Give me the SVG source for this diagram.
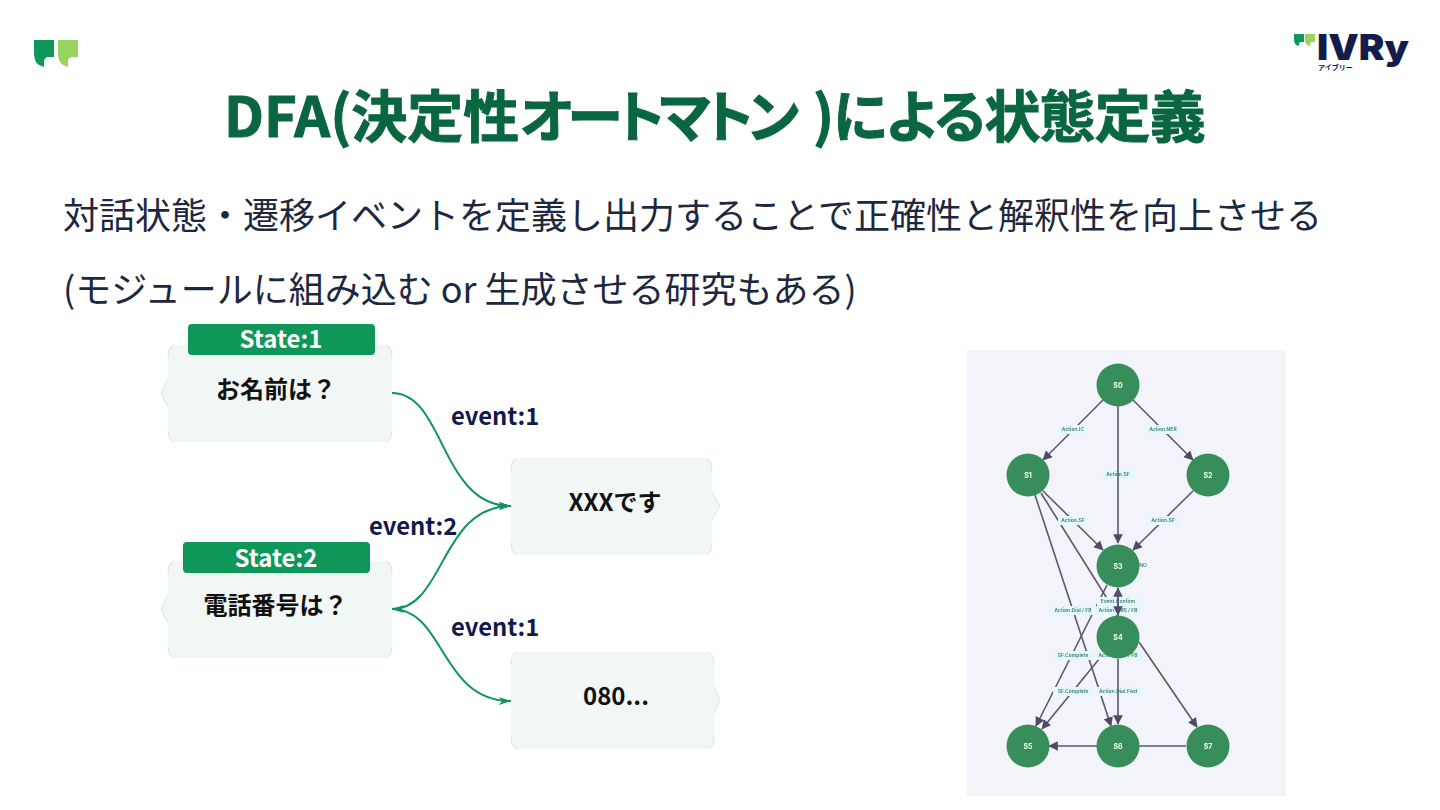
<svg xmlns="http://www.w3.org/2000/svg" width="1440" height="810" viewBox="0 0 1440 810">
<style>
.ja{font-family:"Noto Sans CJK JP","Noto Sans",sans-serif}
.title{font-size:56px;font-weight:700;fill:#0a6640;stroke:#0a6640;stroke-width:1;font-feature-settings:"palt"}
.body{font-size:36px;fill:#1d2840}
.nt{font-size:24px;font-weight:700;fill:#111;text-anchor:middle}
.st{font-size:24px;font-weight:700;fill:#fff;text-anchor:middle}
.ev{font-size:23.8px;font-weight:700;fill:#13194a}
.box{fill:#f0f7f5}
.cr{fill:none;stroke:#c8d0cd;stroke-width:.5}
.hd{fill:#0f9659}
.cn{fill:none;stroke:#0f9659;stroke-width:2}
.e{stroke:#5a5870;stroke-width:1.6;fill:none;marker-end:url(#a)}
.lb{fill:#e6f7fa}
.lt{font-family:Inter,"Liberation Sans",sans-serif;font-size:5px;font-weight:600;fill:#3a7d7a;text-anchor:middle}
.n{fill:#378e5a}
.nl{font-family:Inter,"Liberation Sans",sans-serif;font-size:7px;font-weight:700;fill:#f2fff6;text-anchor:middle}
</style>
<defs>
<marker id="a" markerWidth="8" markerHeight="8" refX="5.5" refY="3" orient="auto"><path d="M0 0L6 3L0 6Z" fill="#4f4c66"/></marker>
<marker id="g" markerWidth="14" markerHeight="12" refX="12" refY="4" orient="auto-start-reverse" markerUnits="userSpaceOnUse"><path d="M0 0L12 4L0 8L3 4Z" fill="#0f9659"/></marker>
<filter id="soft" x="0" y="0" width="1" height="1"><feGaussianBlur stdDeviation=".35"/></filter>
</defs>
<rect width="1440" height="810" fill="#fff"/>
<g id="logo-left">
<path d="M34 40H54V57H49Q44 57 44 62V67Q34 65 34 54Z" fill="#0f9659"/>
<path d="M58 40H78V57H73Q68 57 68 62V67Q58 65 58 54Z" fill="#9ad45f"/>
</g>
<g id="logo-right">
<path d="M1294 34H1304V42H1301Q1299 42 1299 44V46Q1294 45 1294 40Z" fill="#0f9659"/>
<path d="M1305 34H1315V42H1312Q1310 42 1310 44V46Q1305 45 1305 40Z" fill="#9ad45f"/>
<text x="1317" y="60" font-family="Inter,'Liberation Sans',sans-serif" font-size="35" font-weight="900" fill="#141c4a" textLength="92" lengthAdjust="spacingAndGlyphs">IVRy</text>
<text x="1318" y="70" class="ja" font-size="7" font-weight="700" fill="#141c4a">アイブリー</text>
</g>
<text y="137" class="ja title"><tspan x="224">DFA(決定性</tspan><tspan x="520" letter-spacing="-5">オートマトン </tspan><tspan x="813">)</tspan><tspan x="833" letter-spacing="-0.9">による状態定義</tspan></text>
<text x="63" y="229" class="ja body">対話状態・遷移イベントを定義し出力することで正確性と解釈性を向上させる</text>
<text x="63" y="303" class="ja body">(モジュールに組み込む or 生成させる研究もある)</text>
<g id="connectors">
<path class="cn" marker-end="url(#g)" d="M392 393C445 393 440 506 511 506"/>
<path class="cn" marker-start="url(#g)" marker-end="url(#g)" d="M392 609C445 609 440 506 511 506"/>
<path class="cn" d="M392 609C445 609 440 701 511 701" marker-end="url(#g)"/>
</g>
<g id="state1">
<path class="box" d="M174 345H386Q392 347 392 353V434Q392 440 386 442H174Q168 440 168 434V407L161 393L168 378V353Q168 347 174 345Z"/>
<path class="cr" d="M174 345Q168 347 168 358M386 345Q392 347 392 358M392 429Q392 440 386 442M174 442Q168 440 168 429M168 407L161 393L168 378"/>
<rect class="hd" x="188" y="324" width="187" height="31" rx="4"/>
<text class="ja st" x="281" y="348">State:1</text>
<text class="ja nt" x="276" y="398">お名前は？</text>
</g>
<g id="state2">
<path class="box" d="M174 561H386Q392 563 392 569V650Q392 656 386 658H174Q168 656 168 650V623L161 609L168 594V569Q168 563 174 561Z"/>
<path class="cr" d="M174 561Q168 563 168 574M386 561Q392 563 392 574M392 645Q392 656 386 658M174 658Q168 656 168 645M168 623L161 609L168 594"/>
<rect class="hd" x="183" y="542" width="187" height="31" rx="4"/>
<text class="ja st" x="276" y="567">State:2</text>
<text class="ja nt" x="275.500" y="614">電話番号は？</text>
</g>
<g id="reply1">
<path class="box" d="M517 458H706Q712 460 712 466V492L720 506L712 520V547Q712 553 706 555H517Q511 553 511 547V466Q511 460 517 458Z"/>
<path class="cr" d="M517 458Q511 460 511 471M706 458Q712 460 712 471M712 542Q712 553 706 555M517 555Q511 553 511 542M712 492L720 506L712 520"/>
<text class="ja nt" x="615" y="511">XXXです</text>
</g>
<g id="reply2">
<path class="box" d="M517 652H708Q714 654 714 660V686L720 700L714 714V741Q714 747 708 749H517Q511 747 511 741V660Q511 654 517 652Z"/>
<path class="cr" d="M517 652Q511 654 511 665M708 652Q714 654 714 665M714 736Q714 747 708 749M517 749Q511 747 511 736M714 686L720 700L714 714"/>
<text class="ja nt" x="616" y="705">080...</text>
</g>
<g id="event-labels">
<text class="ja ev" x="451" y="425">event:1</text>
<text class="ja ev" x="369" y="535">event:2</text>
<text class="ja ev" x="451" y="636">event:1</text>
</g>
<rect x="967" y="350" width="319" height="446" fill="#f3f4f9"/>
<g filter="url(#soft)">
<g id="graph-edges">
<path class="e" d="M1103 400L1043 460"/>
<path class="e" d="M1133 400L1193 460"/>
<path class="e" d="M1043 491L1103 550"/>
<path class="e" d="M1193 491L1133 550"/>
<path class="e" d="M1035 495L1111 726"/>
<path class="e" d="M1041 493L1118 616"/>
<path class="e" d="M1107 585L1036 726"/>
<path class="e" d="M1104 653L1042 729"/>
<path class="e" d="M1139 642L1197 727"/>
<path class="e" d="M1186 746H1049"/>
</g>
<g id="graph-labels">
<rect class="lb" x="1058" y="425" width="30" height="9"/><text class="lt" x="1073" y="431">Action.IC</text>
<rect class="lb" x="1146" y="425" width="34" height="9"/><text class="lt" x="1163" y="431">Action.NER</text>
<rect class="lb" x="1103" y="470" width="30" height="9"/><text class="lt" x="1118" y="476">Action.SF</text>
<rect class="lb" x="1058" y="516" width="30" height="9"/><text class="lt" x="1073" y="522">Action.SF</text>
<rect class="lb" x="1148" y="516" width="30" height="9"/><text class="lt" x="1163" y="522">Action.SF</text>
<text class="lt" x="1143" y="567">NO</text>
<rect class="lb" x="1097" y="597" width="42" height="9"/><text class="lt" x="1118" y="603">Event.Confirm</text>
<rect class="lb" x="1049" y="606" width="50" height="9"/><text class="lt" x="1073" y="612">Action.Dial / FB</text>
<rect class="lb" x="1095" y="606" width="46" height="9"/><text class="lt" x="1118" y="612">Action.SMS / FB</text>
<rect class="lb" x="1053" y="651" width="40" height="9"/><text class="lt" x="1073" y="657">SF.Complete</text>
<rect class="lb" x="1095" y="651" width="46" height="9"/><text class="lt" x="1118" y="657">Action.SMS / FB</text>
<rect class="lb" x="1053" y="687" width="40" height="9"/><text class="lt" x="1073" y="693">SF.Complete</text>
<rect class="lb" x="1095" y="687" width="46" height="9"/><text class="lt" x="1118" y="693">Action.Dial.Fwd</text>
</g>
<g id="graph-edges-over">
<path class="e" d="M1118 406V543"/>
<path class="e" d="M1118 615V588"/>
<path class="e" d="M1118 590V615"/>
<path class="e" d="M1118 659V724"/>
</g>
<g id="S0"><circle class="n" cx="1118" cy="385" r="21.5"/><text class="nl" x="1118" y="388">S0</text></g>
<g id="S1"><circle class="n" cx="1028" cy="475" r="21.5"/><text class="nl" x="1028" y="478">S1</text></g>
<g id="S2"><circle class="n" cx="1208" cy="475" r="21.5"/><text class="nl" x="1208" y="478">S2</text></g>
<g id="S3"><circle class="n" cx="1118" cy="566" r="21.5"/><text class="nl" x="1118" y="569">S3</text></g>
<g id="S4"><circle class="n" cx="1118" cy="637" r="21.5"/><text class="nl" x="1118" y="640">S4</text></g>
<g id="S5"><circle class="n" cx="1028" cy="746" r="21.5"/><text class="nl" x="1028" y="749">S5</text></g>
<g id="S6"><circle class="n" cx="1118" cy="746" r="21.5"/><text class="nl" x="1118" y="749">S6</text></g>
<g id="S7"><circle class="n" cx="1208" cy="746" r="21.5"/><text class="nl" x="1208" y="749">S7</text></g>
</g>
</svg>
